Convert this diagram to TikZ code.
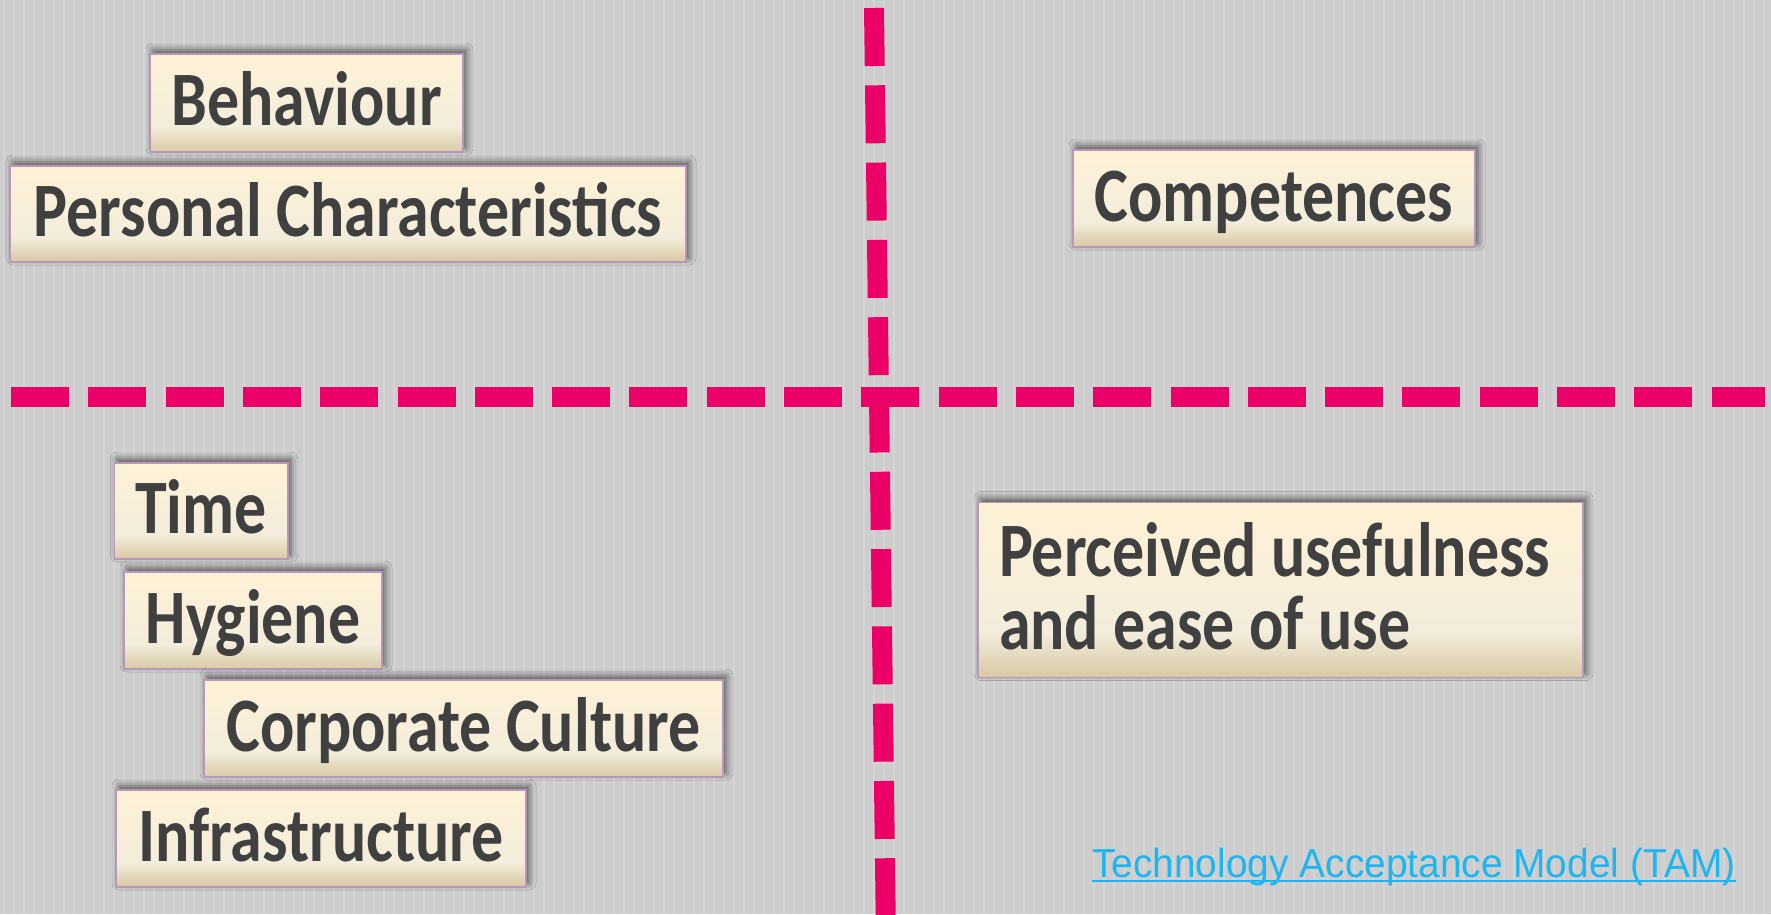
\documentclass[tikz,border=0pt]{standalone}
\usepackage{fontspec}
\newfontfamily\boxfont{Carlito}[FakeStretch=0.83]
\newfontfamily\linkfont{Liberation Sans}[FakeStretch=0.96]
\usetikzlibrary{shadows.blur}
\definecolor{bg}{RGB}{205,205,205}
\definecolor{bgline}{RGB}{213,213,213}
\definecolor{pinkline}{RGB}{234,0,102}
\definecolor{boxtop}{RGB}{255,242,214}
\definecolor{boxmid}{RGB}{243,237,220}
\definecolor{boxbot}{RGB}{216,201,164}
\definecolor{boxborder}{RGB}{186,150,186}
\definecolor{txt}{RGB}{64,64,64}
\definecolor{linkcol}{RGB}{30,182,240}
\pgfdeclareverticalshading{boxshade}{100bp}{color(0bp)=(boxbot); color(25bp)=(boxbot); color(38bp)=(boxmid); color(75bp)=(boxtop); color(100bp)=(boxtop)}
\tikzset{
  box/.style={draw=boxborder, line width=1.5pt, shading=boxshade, text=txt,
    font=\boxfont\bfseries\fontsize{77}{73}\selectfont,
    inner xsep=21pt, inner ysep=0pt, text height=45pt, text depth=0pt,
    blur shadow={shadow xshift=3pt, shadow yshift=4pt, shadow blur radius=7pt, shadow opacity=60}},
  dashline/.style={draw=pinkline, line width=20pt, dash pattern=on 58pt off 19.3pt},
  linktext/.style={font=\linkfont\fontsize{40.5}{48}\selectfont, text=linkcol, inner sep=0pt, anchor=base west},
}
\begin{document}
\begin{tikzpicture}[x=1pt, y=-1pt]
\useasboundingbox (0,0) rectangle (1771,914);
\fill[bg] (0,0) rectangle (1771,914);
\foreach \x in {4,14,...,1771} \draw[bgline, line width=2pt] (\x,0) -- (\x,914);

\node[box, minimum width=313pt, minimum height=98pt] (beh) at (306.5,103) {Behaviour};
\node[box, minimum width=676pt, minimum height=96pt] (pers) at (348,214) {Personal Characteristics};
\node[box, minimum width=402pt, minimum height=97pt] (comp) at (1274,198.5) {Competences};
\node[box, minimum width=172pt, minimum height=96pt] (time) at (201,511) {Time};
\node[box, minimum width=258pt, minimum height=97pt] (hyg) at (253,620.5) {Hygiene};
\node[box, minimum width=519pt, minimum height=97pt] (corp) at (463.5,728.5) {Corporate Culture};
\node[box, minimum width=410pt, minimum height=97pt] (infra) at (321,838.5) {Infrastructure};
\node[box, minimum width=605pt, minimum height=175pt, text width=563pt, align=left, text depth=73pt] (pu) at (1280.5,590) {\spaceskip=14.5pt\relax\xspaceskip=14.5pt\relax\mbox{Perceived usefulness}\\\mbox{and ease of use}};

\coordinate (hl) at (11,397);
\coordinate (hr) at (1765,397);
\coordinate (vt) at (874,8);
\coordinate (vb) at (886,940);
\draw[dashline] (hl) -- (hr);
\draw[dashline] (vt) -- (vb);

\node[linktext] (tam) at (1092,877) {Technology Acceptance Model (TAM)};
\draw[linkcol, line width=2.5pt] ([yshift=-4pt]tam.base west) -- ([yshift=-4pt]tam.base east);
\end{tikzpicture}
\end{document}
